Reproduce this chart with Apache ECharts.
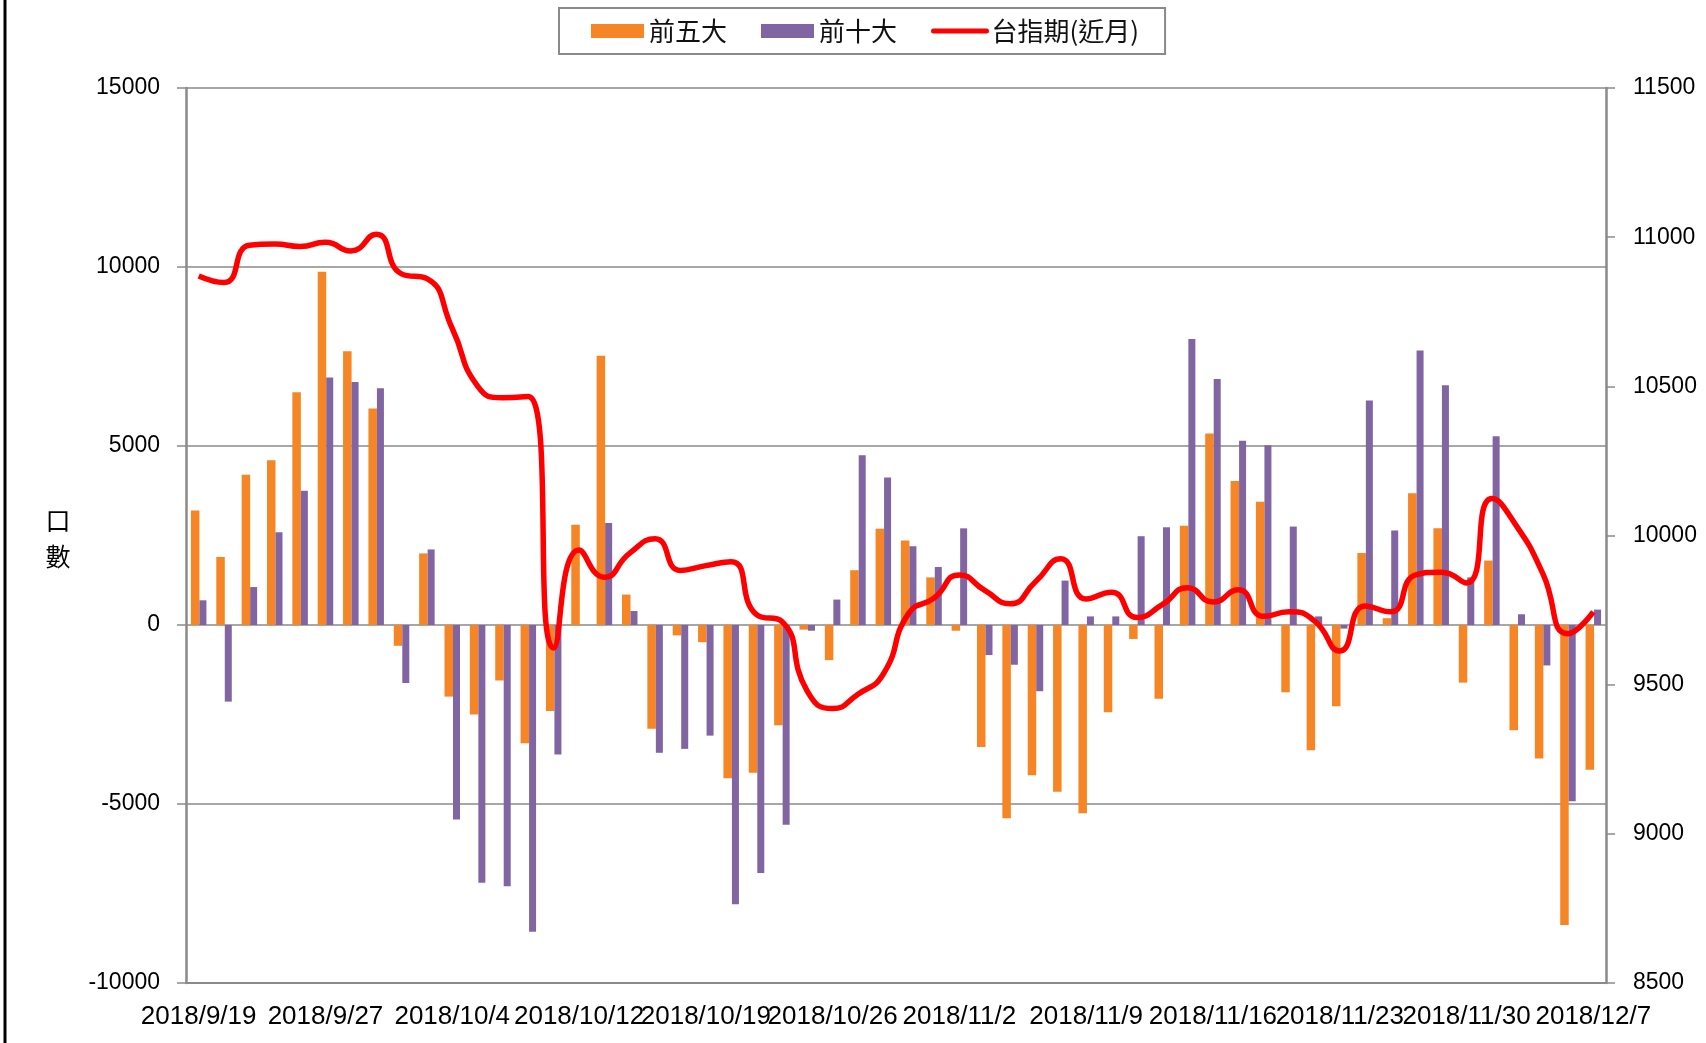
<!DOCTYPE html>
<html>
<head>
<meta charset="utf-8">
<script src="https://cdn.jsdelivr.net/npm/echarts@6/dist/echarts.min.js"></script>
<style>
html,body{margin:0;padding:0;background:#fff;}
#chart{width:1706px;height:1043px;}
</style>
</head>
<body>
<div id="chart"></div>
<script>
const dates = [
  '2018/9/19','2018/9/20','2018/9/21','2018/9/25','2018/9/26','2018/9/27','2018/9/28',
  '2018/10/1','2018/10/2','2018/10/3','2018/10/4','2018/10/5','2018/10/8','2018/10/9','2018/10/11','2018/10/12',
  '2018/10/15','2018/10/16','2018/10/17','2018/10/18','2018/10/19','2018/10/22','2018/10/23','2018/10/24','2018/10/25','2018/10/26',
  '2018/10/29','2018/10/30','2018/10/31','2018/11/1','2018/11/2','2018/11/5','2018/11/6','2018/11/7','2018/11/8','2018/11/9',
  '2018/11/12','2018/11/13','2018/11/14','2018/11/15','2018/11/16','2018/11/19','2018/11/20','2018/11/21','2018/11/22','2018/11/23',
  '2018/11/26','2018/11/27','2018/11/28','2018/11/29','2018/11/30','2018/12/3','2018/12/4','2018/12/5','2018/12/6','2018/12/7'
];
const top5 = [
  3200, 1900, 4200, 4600, 6500, 9870, 7650, 6050, -580, 2000,
  -2000, -2500, -1550, -3300, -2400, 2800, 7520, 850, -2900, -290,
  -480, -4280, -4130, -2800, -130, -980, 1530, 2690, 2360, 1330,
  -160, -3410, -5400, -4200, -4660, -5260, -2440, -390, -2060, 2770,
  5350, 4020, 3440, -1880, -3500, -2270, 2010, 190, 3680, 2700,
  -1610, 1800, -2940, -3730, -8380, -4040
];
const top10 = [
  690, -2140, 1060, 2590, 3750, 6910, 6790, 6610, -1620, 2110,
  -5430, -7200, -7300, -8570, -3620, 0, 2850, 390, -3570, -3460,
  -3090, -7800, -6930, -5580, -160, 710, 4740, 4120, 2200, 1620,
  2700, -840, -1110, -1850, 1240, 240, 240, 2480, 2730, 7990,
  6870, 5150, 5020, 2750, 240, -100, 6270, 2640, 7670, 6700,
  1330, 5270, 300, -1130, -4920, 430
];
const futures = [
  10870, 10848, 10973, 10977, 10969, 10983, 10954, 11010, 10877, 10861,
  10694, 10501, 10462, 10466, 9623, 9951, 9860, 9941, 9989, 9883,
  9899, 9912, 9735, 9712, 9478, 9420, 9468, 9536, 9739, 9790,
  9868, 9816, 9771, 9845, 9922, 9787, 9810, 9725, 9768, 9825,
  9777, 9818, 9729, 9744, 9714, 9613, 9764, 9744, 9868, 9877,
  9841, 10124, 10028, 9874, 9671, 9744
];
const seriesNames = ['前五大', '前十大', '台指期(近月)'];
const leftTicks = { min: -10000, max: 15000, interval: 5000 };
const rightTicks = { min: 8500, max: 11500, interval: 500 };

const gray = '#8a8a8a';
const cjk = '"Noto Sans CJK TC", "Noto Sans CJK SC", sans-serif';
const latin = '"Liberation Sans", Arial, sans-serif';
const plain = v => String(v);

const chart = echarts.init(document.getElementById('chart'), null, { renderer: 'canvas' });
chart.setOption({
  backgroundColor: '#ffffff',
  animation: false,
  legend: {
    left: 559,
    top: 8,
    padding: [10, 26, 10, 32],
    borderColor: gray,
    borderWidth: 2,
    itemGap: 34,
    itemWidth: 53,
    itemHeight: 14,
    textStyle: { fontFamily: cjk, fontSize: 26, color: '#111' },
    data: [
      { name: seriesNames[0], icon: 'rect' },
      { name: seriesNames[1], icon: 'rect' },
      {
        name: seriesNames[2],
        itemStyle: { color: 'rgba(0,0,0,0)', opacity: 0, borderWidth: 0 },
        lineStyle: { color: '#FF0000', width: 5, cap: 'round' }
      }
    ]
  },
  grid: { left: 186, right: 100, top: 88, bottom: 60, containLabel: false },
  xAxis: {
    type: 'category',
    data: dates,
    axisLine: { onZero: false, lineStyle: { color: gray, width: 2 } },
    axisTick: { show: false },
    axisLabel: { interval: 4, fontFamily: latin, fontSize: 26, color: '#000', margin: 21 },
    splitLine: { show: false }
  },
  yAxis: [
    {
      type: 'value',
      min: leftTicks.min, max: leftTicks.max, interval: leftTicks.interval,
      axisLine: { show: true, lineStyle: { color: gray, width: 2.5 } },
      axisTick: { show: true, length: 9, lineStyle: { color: gray, width: 1.5 } },
      axisLabel: { fontFamily: latin, fontSize: 23, color: '#000', margin: 26, formatter: plain },
      splitLine: { show: true, lineStyle: { color: gray, width: 1.5 } }
    },
    {
      type: 'value',
      position: 'right',
      min: rightTicks.min, max: rightTicks.max, interval: rightTicks.interval,
      axisLine: { show: true, lineStyle: { color: gray, width: 2.5 } },
      axisTick: { show: true, length: 9, lineStyle: { color: gray, width: 1.5 } },
      axisLabel: { fontFamily: latin, fontSize: 23, color: '#000', margin: 27, formatter: plain },
      splitLine: { show: false }
    }
  ],
  series: [
    {
      name: seriesNames[0], type: 'bar', yAxisIndex: 0,
      data: top5, barWidth: 8.5, barGap: '0%',
      itemStyle: { color: '#F68526' }
    },
    {
      name: seriesNames[1], type: 'bar', yAxisIndex: 0,
      data: top10, barWidth: 7, barGap: '0%',
      itemStyle: { color: '#8165A2' }
    },
    {
      name: seriesNames[2], type: 'line', yAxisIndex: 1,
      data: futures, smooth: 0.55, symbol: 'none', showSymbol: false,
      lineStyle: { color: '#FF0000', width: 5.5 },
      itemStyle: { color: '#FF0000' },
      z: 5
    }
  ],
  graphic: [
    { type: 'line', shape: { x1: 5, y1: 0, x2: 5, y2: 1043 }, style: { stroke: '#000', lineWidth: 3 } },
    {
      type: 'text', x: 58, y: 538,
      style: { text: '口\n數', font: '25px ' + cjk, fill: '#000', align: 'center', verticalAlign: 'middle', lineHeight: 36 }
    }
  ]
});
</script>
</body>
</html>
